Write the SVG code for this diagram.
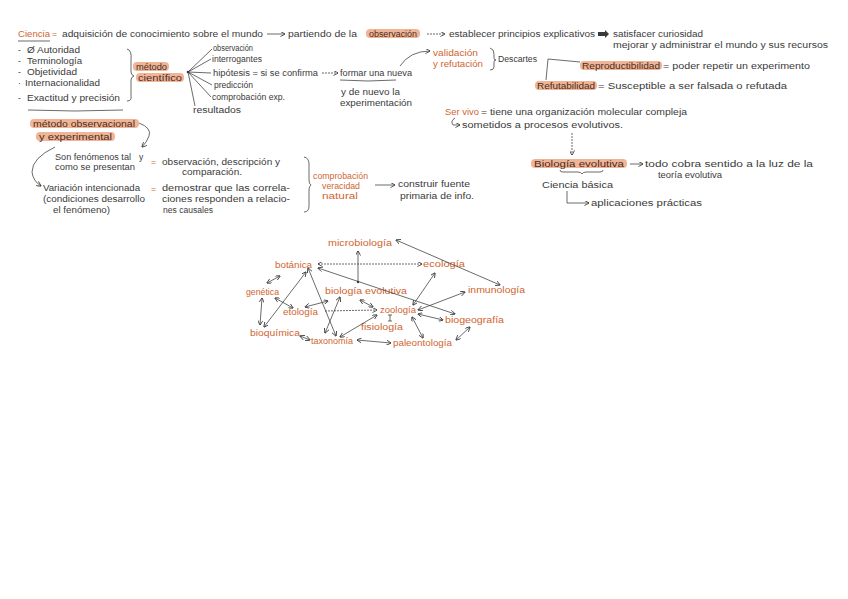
<svg xmlns="http://www.w3.org/2000/svg" width="848" height="599" viewBox="0 0 848 599">
<defs>
<style>
text{font-family:"Liberation Sans",Arial,sans-serif;font-size:8.5px;fill:#3a3a3a}
.o{fill:#cf6530}
.h{fill:#4a2c1c}
.hl{fill:#eda785;opacity:0.85}
.ln{fill:none;stroke:#3a3a3a;stroke-width:0.75}
.a{marker-end:url(#ah)}
.d{marker-start:url(#ah);marker-end:url(#ah)}
.ds{stroke-dasharray:2 1}
</style>
<marker id="ah" viewBox="0 0 6 6" refX="5.5" refY="3" markerWidth="5" markerHeight="5" orient="auto-start-reverse" markerUnits="userSpaceOnUse">
<path d="M0,0 L6,3 L0,6" fill="none" stroke="#3a3a3a" stroke-width="1"/>
</marker>
</defs>
<rect width="848" height="599" fill="#fff"/>

<g id="ciencia">
<text class="o" x="18" y="37" textLength="32" lengthAdjust="spacingAndGlyphs">Ciencia</text>
<text class="o" x="52" y="37">=</text>
<text x="62" y="37" textLength="201" lengthAdjust="spacingAndGlyphs">adquisición de conocimiento sobre el mundo</text>
<text x="288" y="37" textLength="69" lengthAdjust="spacingAndGlyphs">partiendo de la</text>
<rect class="hl" x="366" y="29" width="54" height="9" rx="4"/>
<text class="h" x="369" y="36.5" textLength="48" lengthAdjust="spacingAndGlyphs">observación</text>
<text x="449" y="37" textLength="146" lengthAdjust="spacingAndGlyphs">establecer principios explicativos</text>
<text x="613" y="37" textLength="90" lengthAdjust="spacingAndGlyphs">satisfacer curiosidad</text>
<text x="613" y="48" textLength="215" lengthAdjust="spacingAndGlyphs">mejorar y administrar el mundo y sus recursos</text>
<path class="ln" d="M18,41 L50,41"/>
</g>

<g id="caracteristicas">
<text x="18" y="53">-</text>
<text x="27" y="53" textLength="53" lengthAdjust="spacingAndGlyphs">Ø Autoridad</text>
<text x="18" y="64">-</text>
<text x="27" y="64" textLength="55" lengthAdjust="spacingAndGlyphs">Terminología</text>
<text x="18" y="75">-</text>
<text x="27" y="75" textLength="50" lengthAdjust="spacingAndGlyphs">Objetividad</text>
<text x="18" y="86">·</text>
<text x="25" y="86" textLength="75" lengthAdjust="spacingAndGlyphs">Internacionalidad</text>
<text x="18" y="101">-</text>
<text x="27" y="101" textLength="93" lengthAdjust="spacingAndGlyphs">Exactitud y precisión</text>
<path class="ln" d="M28,110 Q75,112 123,110"/>
<path class="ln" d="M127,49 Q132,50 131,60 L131,72 Q131,75 134,76 Q131,77 131,80 L131,96 Q132,101 127,101"/>
</g>

<g id="metodo-cientifico">
<rect class="hl" x="133" y="62" width="36" height="9" rx="4"/>
<text class="h" x="136" y="69.5" textLength="31" lengthAdjust="spacingAndGlyphs">método</text>
<rect class="hl" x="136" y="73" width="48" height="9" rx="4"/>
<text class="h" x="138" y="80.5" textLength="44" lengthAdjust="spacingAndGlyphs">científico</text>
</g>

<g id="pasos">
<text x="213" y="51" textLength="40" lengthAdjust="spacingAndGlyphs">observación</text>
<text x="212" y="62" textLength="50" lengthAdjust="spacingAndGlyphs">interrogantes</text>
<text x="213" y="76" textLength="105" lengthAdjust="spacingAndGlyphs">hipótesis = si se confirma</text>
<text x="214" y="88" textLength="39" lengthAdjust="spacingAndGlyphs">predicción</text>
<text x="212" y="100" textLength="73" lengthAdjust="spacingAndGlyphs">comprobación exp.</text>
<text x="193" y="113" textLength="48" lengthAdjust="spacingAndGlyphs">resultados</text>
</g>

<g id="formar-teoria">
<text x="340" y="76" textLength="72" lengthAdjust="spacingAndGlyphs">formar una nueva</text>
<path class="ln" d="M340,80 Q368,82 396,80"/>
<text x="341" y="95" textLength="59" lengthAdjust="spacingAndGlyphs">y de nuevo la</text>
<text x="340" y="106" textLength="72" lengthAdjust="spacingAndGlyphs">experimentación</text>
</g>

<g id="validacion">
<text class="o" x="433" y="56" textLength="45" lengthAdjust="spacingAndGlyphs">validación</text>
<text class="o" x="433" y="67" textLength="50" lengthAdjust="spacingAndGlyphs">y refutación</text>
<path class="ln" d="M490,48 Q494,49 494,54 L494,58 Q494,60 496,60 Q494,60 494,62 L494,67 Q494,70 490,70"/>
<text x="498" y="62" textLength="39" lengthAdjust="spacingAndGlyphs">Descartes</text>
</g>

<g id="reproductibilidad">
<rect class="hl" x="580" y="61" width="82" height="9" rx="4"/>
<text class="h" x="582" y="68.5" textLength="78" lengthAdjust="spacingAndGlyphs">Reproductibilidad</text>
<text x="663" y="69" textLength="147" lengthAdjust="spacingAndGlyphs">= poder repetir un experimento</text>
</g>

<g id="refutabilidad">
<rect class="hl" x="535" y="81" width="62" height="9" rx="4"/>
<text class="h" x="537" y="88.5" textLength="58" lengthAdjust="spacingAndGlyphs">Refutabilidad</text>
<text x="598" y="89" textLength="189" lengthAdjust="spacingAndGlyphs">= Susceptible a ser falsada o refutada</text>
</g>

<g id="ser-vivo">
<text class="o" x="445" y="115" textLength="34" lengthAdjust="spacingAndGlyphs">Ser vivo</text>
<text x="481" y="115" textLength="206" lengthAdjust="spacingAndGlyphs">= tiene una organización molecular compleja</text>
<text x="462" y="128" textLength="161" lengthAdjust="spacingAndGlyphs">sometidos a procesos evolutivos.</text>
</g>

<g id="biologia-evolutiva">
<rect class="hl" x="531" y="159" width="96" height="9" rx="4"/>
<text class="h" x="534" y="166.5" textLength="90" lengthAdjust="spacingAndGlyphs">Biología evolutiva</text>
<text x="645" y="167" textLength="168" lengthAdjust="spacingAndGlyphs">todo cobra sentido a la luz de la</text>
<text x="658" y="178" textLength="64" lengthAdjust="spacingAndGlyphs">teoría evolutiva</text>
<path class="ln" d="M560,170 Q560,172 563,172 L578,172 Q581,172 582,174 Q583,172 586,172 L600,172 Q603,172 603,170"/>
<text x="542" y="188" textLength="71" lengthAdjust="spacingAndGlyphs">Ciencia básica</text>
<text x="591" y="206" textLength="111" lengthAdjust="spacingAndGlyphs">aplicaciones prácticas</text>
</g>

<g id="metodo-observacional">
<rect class="hl" x="30" y="119" width="109" height="9" rx="4"/>
<text class="h" x="33" y="126.5" textLength="102" lengthAdjust="spacingAndGlyphs">método observacional</text>
<rect class="hl" x="36" y="132" width="79" height="9" rx="4"/>
<text class="h" x="39" y="139.5" textLength="73" lengthAdjust="spacingAndGlyphs">y experimental</text>
</g>

<g id="observacion-fenomenos">
<text x="55" y="160" textLength="76" lengthAdjust="spacingAndGlyphs">Son fenómenos tal</text>
<text x="139" y="160" font-size="10">y</text>
<text x="55" y="170" textLength="80" lengthAdjust="spacingAndGlyphs">como se presentan</text>
<text class="o" x="151" y="165">=</text>
<text x="162" y="165" textLength="118" lengthAdjust="spacingAndGlyphs">observación, descripción y</text>
<text x="182" y="175" textLength="60" lengthAdjust="spacingAndGlyphs">comparación.</text>
</g>

<g id="variacion">
<text x="43" y="191" textLength="97" lengthAdjust="spacingAndGlyphs">Variación intencionada</text>
<text x="43" y="202" textLength="102" lengthAdjust="spacingAndGlyphs">(condiciones desarrollo</text>
<text x="53" y="213" textLength="57" lengthAdjust="spacingAndGlyphs">el fenómeno)</text>
<text class="o" x="151" y="192">=</text>
<text x="162" y="191" textLength="128" lengthAdjust="spacingAndGlyphs">demostrar que las correla-</text>
<text x="162" y="202" textLength="128" lengthAdjust="spacingAndGlyphs">ciones responden a relacio-</text>
<text x="163" y="213" textLength="50" lengthAdjust="spacingAndGlyphs">nes causales</text>
</g>

<g id="comprobacion">
<path class="ln" d="M304,157 Q309,158 309,164 L309,180 Q309,184 311,185 Q309,186 309,190 L309,206 Q309,212 304,212"/>
<text class="o" x="313" y="179" textLength="55" lengthAdjust="spacingAndGlyphs">comprobación</text>
<text class="o" x="322" y="189" textLength="38" lengthAdjust="spacingAndGlyphs">veracidad</text>
<text class="o" x="322" y="199" textLength="36" lengthAdjust="spacingAndGlyphs">natural</text>
<text x="398" y="187" textLength="72" lengthAdjust="spacingAndGlyphs">construir fuente</text>
<text x="400" y="199" textLength="74" lengthAdjust="spacingAndGlyphs">primaria de info.</text>
</g>

<g id="red">
<g id="microbiologia"><text class="o" x="328" y="246" textLength="64" lengthAdjust="spacingAndGlyphs">microbiología</text></g>
<g id="botanica"><text class="o" x="275" y="268" textLength="37" lengthAdjust="spacingAndGlyphs">botánica</text></g>
<g id="ecologia"><text class="o" x="423" y="267" textLength="42" lengthAdjust="spacingAndGlyphs">ecología</text></g>
<g id="genetica"><text class="o" x="246" y="295" textLength="33" lengthAdjust="spacingAndGlyphs">genética</text></g>
<g id="biologia-evo"><text class="o" x="325" y="294" textLength="82" lengthAdjust="spacingAndGlyphs">biología evolutiva</text></g>
<g id="inmunologia"><text class="o" x="468" y="293" textLength="57" lengthAdjust="spacingAndGlyphs">inmunología</text></g>
<g id="etologia"><text class="o" x="283" y="315" textLength="35" lengthAdjust="spacingAndGlyphs">etología</text></g>
<g id="zoologia"><text class="o" x="380" y="313" textLength="36" lengthAdjust="spacingAndGlyphs">zoología</text></g>
<g id="fisiologia"><text class="o" x="361" y="330" textLength="42" lengthAdjust="spacingAndGlyphs">fisiología</text></g>
<g id="biogeografia"><text class="o" x="445" y="323" textLength="59" lengthAdjust="spacingAndGlyphs">biogeografía</text></g>
<g id="bioquimica"><text class="o" x="250" y="336" textLength="50" lengthAdjust="spacingAndGlyphs">bioquímica</text></g>
<g id="taxonomia"><text class="o" x="311" y="344" textLength="42" lengthAdjust="spacingAndGlyphs">taxonomía</text></g>
<g id="paleontologia"><text class="o" x="393" y="346" textLength="59" lengthAdjust="spacingAndGlyphs">paleontología</text></g>
</g>

<g id="conectores">
<path class="ln a" d="M267,34 L285,34"/>
<path class="ln a ds" d="M427,34 L445,34"/>
<path d="M598,32 L605,32 L605,30 L609,34 L605,38 L605,36 L598,36 Z" fill="#3a3a3a"/>
<circle cx="188" cy="72" r="1.3" fill="#3a3a3a"/>
<path class="ln" d="M188,72 L212,49 M188,72 L211,59 M188,72 L211,73 M188,72 L212,85 M188,72 L211,97 M188,72 L195,106"/>
<path class="ln a ds" d="M322,73 L338,73"/>
<path class="ln a" d="M400,66 Q410,51 430,51"/>
<path class="ln" d="M548,59 L580,62 M548,59 L546,80"/>
<path class="ln a" d="M455,118 Q450,121 453,125 L460,125"/>
<path class="ln a ds" d="M572,133 L572,155"/>
<path class="ln a" d="M630,164 L643,164"/>
<path class="ln a" d="M567,191 L567,203 L589,203"/>
<path class="ln a" d="M139,123 Q152,128 149,136 Q147,142 142,147"/>
<path class="ln a" d="M55,147 Q32,158 32,172 Q33,181 41,186"/>
<path class="ln a" d="M375,185 L395,185"/>
<path class="ln d" d="M396,240 L500,285"/>
<path class="ln a" d="M358,282 L358,251"/>
<circle cx="358" cy="282" r="1.2" fill="#3a3a3a"/>
<path class="ln d ds" d="M318,264 L422,264"/>
<path class="ln d" d="M318,268 L455,314"/>
<path class="ln d" d="M280,276 L267,283"/>
<path class="ln d" d="M306,272 L264,327"/>
<path class="ln d" d="M262,298 L260,325"/>
<path class="ln d" d="M275,298 L293,308"/>
<path class="ln d" d="M305,307 L328,301"/>
<path class="ln a ds" d="M325,311 L377,310"/>
<path class="ln d" d="M308,268 L336,336"/>
<path class="ln d" d="M340,297 L325,333"/>
<path class="ln d" d="M300,336 L310,340"/>
<path class="ln d" d="M340,337 L377,315"/>
<path class="ln d" d="M357,340 L391,343"/>
<path class="ln d" d="M360,300 L373,307"/>
<path class="ln d" d="M435,273 L413,305"/>
<path class="ln d" d="M465,292 L418,310"/>
<path class="ln d" d="M418,314 L443,320"/>
<path class="ln d" d="M412,317 L423,338"/>
<path class="ln d" d="M456,340 L470,327"/>
<path class="ln" d="M390,315 L390,321 M388,315 L392,315 M388,321 L392,321"/>
</g>
</svg>
